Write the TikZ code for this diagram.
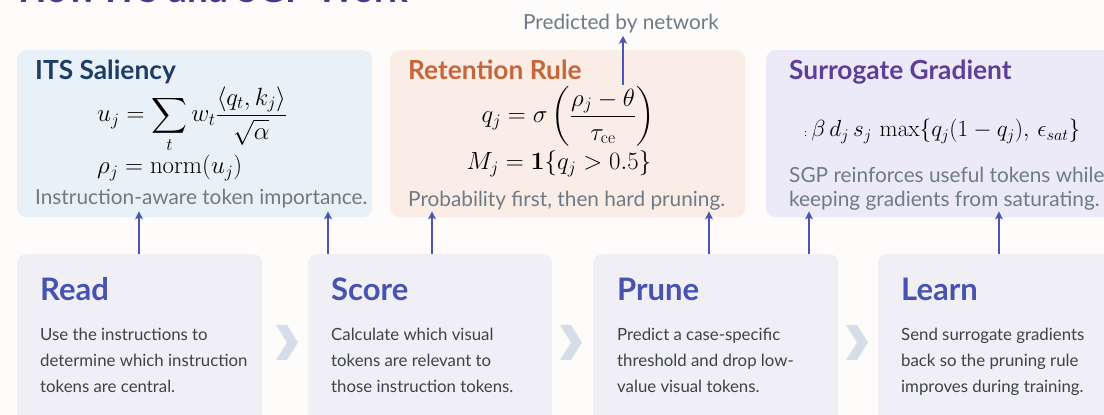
\RequirePackage{fix-cm}
\documentclass[tikz,border=0pt]{standalone}
\usepackage{amsmath}
\usepackage[no-math]{fontspec}
\setmainfont{Lato}
\usetikzlibrary{arrows.meta}

\definecolor{pagebg}{HTML}{FDFCFB}
\definecolor{itsfill}{HTML}{E8F0F8}
\definecolor{rulefill}{HTML}{FAEDE5}
\definecolor{gradfill}{HTML}{ECE9F8}
\definecolor{stepfill}{HTML}{EFEFF5}
\definecolor{itshead}{HTML}{1F3C66}
\definecolor{rulehead}{HTML}{C8653A}
\definecolor{gradhead}{HTML}{5E3F98}
\definecolor{stepblue}{HTML}{4852B0}
\definecolor{notegrey}{HTML}{6F7A87}
\definecolor{bodygrey}{HTML}{3D424C}
\definecolor{flowblue}{HTML}{4A55B5}
\definecolor{chevgrey}{HTML}{D5DEE8}
\definecolor{titlepurple}{HTML}{50338F}

\tikzset{
  card/.style={rounded corners=9pt, inner sep=0pt, anchor=north west},
  cardhead/.style={anchor=base west, inner sep=0pt, font=\fontsize{26.3}{31}\selectfont\bfseries},
  note/.style={anchor=base west, inner sep=0pt, text=notegrey, font=\fontsize{20.8}{24.5}\selectfont},
  stephead/.style={anchor=base west, inner sep=0pt, text=stepblue, font=\fontsize{31}{36}\selectfont\bfseries},
  stepbody/.style={anchor=base west, inner sep=0pt, align=left, text=bodygrey, font=\fontsize{16.8}{26}\selectfont},
  eq/.style={inner sep=0pt, font=\fontsize{24.9}{30}\selectfont},
  flow/.style={draw=flowblue, line width=2.4pt, -{Stealth[length=8pt,width=8pt,inset=2pt]}},
  chevron/.style={fill=chevgrey}
}

\begin{document}
\begin{tikzpicture}[x=1pt, y=1pt]
\useasboundingbox (0,0) rectangle (1104,415);
\clip (0,0) rectangle (1104,415);
\fill[pagebg] (0,0) rectangle (1104,415);

% heading, mostly cut off by the top edge
\node[anchor=base west, inner sep=0pt, text=titlepurple, font=\fontsize{37}{42}\selectfont\bfseries] (heading) at (18,412.5) {How ITS and SGP Work};

% upper row: the three mechanisms
\node[card, fill=itsfill, minimum width=355pt, minimum height=167pt] (its) at (17,365) {};
\node[card, fill=rulefill, minimum width=355pt, minimum height=167pt] (rule) at (390,365) {};
\node[card, fill=gradfill, minimum width=360pt, minimum height=167pt] (grad) at (766,365) {};

\node[cardhead, text=itshead] (itstitle) at (35,335) {ITS Saliency};
\node[eq, anchor=base west] (itseq1) at (97,293) {$\displaystyle u_j=\sum_t w_t\frac{\langle q_t,k_j\rangle}{\sqrt{\alpha}}$};
\node[eq, anchor=base west] (itseq2) at (97,241) {$\rho_j=\operatorname{norm}(u_j)$};
\node[note] (itsnote) at (35,210) {Instruction-aware token importance.};

\node[cardhead, text=rulehead] (ruletitle) at (408,335) {Retention Rule};
\node[eq, anchor=base] (ruleeq1) at (568,292) {$\displaystyle q_j=\sigma\left(\frac{\rho_j-\theta}{\tau_{\mathrm{ce}}}\right)$};
\node[eq, anchor=base] (ruleeq2) at (559,245) {$M_j=\mathbf{1}\{q_j>0.5\}$};
\node[note] (rulenote) at (408,208) {Probability first, then hard pruning.};

\node[cardhead, text=gradhead] (gradtitle) at (789,335) {Surrogate Gradient};
\node[eq, anchor=base west, font=\fontsize{23.3}{28}\selectfont] (gradeq) at (804,278) {${\scriptscriptstyle:}\,\beta\,d_j\,s_j\,\max\{q_j(1-q_j),\,\epsilon_{sat}\}$};
\node[note, align=left] (gradnote) at (789,208) {SGP reinforces useful tokens while\\keeping gradients from saturating.};

% threshold comes from the network
\node[note, anchor=base] (pred) at (621,385) {Predicted by network};
\coordinate (thr) at (623,330);
\draw[flow, shorten >=2pt] (thr) -- (thr |- pred.south);

% lower row: the four steps
\node[card, fill=stepfill, minimum width=245pt, minimum height=180pt] (read) at (17,161) {};
\node[card, fill=stepfill, minimum width=244pt, minimum height=180pt] (score) at (308,161) {};
\node[card, fill=stepfill, minimum width=245pt, minimum height=180pt] (prune) at (593,161) {};
\node[card, fill=stepfill, minimum width=245pt, minimum height=180pt] (learn) at (878,161) {};

\node[stephead] (readtitle) at (40,114) {Read};
\node[stepbody] (readtext) at (40,22) {Use the instructions to\\determine which instruction\\tokens are central.};
\node[stephead] (scoretitle) at (331,114) {Score};
\node[stepbody] (scoretext) at (331,22) {Calculate which visual\\tokens are relevant to\\those instruction tokens.};
\node[stephead] (prunetitle) at (617,114) {Prune};
\node[stepbody] (prunetext) at (617,22) {Predict a case-specific\\threshold and drop low-\\value visual tokens.};
\node[stephead] (learntitle) at (901,114) {Learn};
\node[stepbody] (learntext) at (901,22) {Send surrogate gradients\\back so the pruning rule\\improves during training.};

% chevrons between steps
\foreach \cx in {276,560,846}
  \fill[chevron] (\cx,90) -- ++(11,0) -- ++(11,-17.5) -- ++(-11,-17.5) -- ++(-11,0) -- ++(11,17.5) -- cycle;

% steps feed the mechanisms
\foreach \ax/\from/\to in {139/read/its, 328/score/its, 432/score/rule, 709/prune/rule, 809/prune/grad, 999/learn/grad}
  \draw[flow, shorten >=-6pt] (\ax,0 |- \from.north) -- (\ax,0 |- \to.south);
\end{tikzpicture}
\end{document}
